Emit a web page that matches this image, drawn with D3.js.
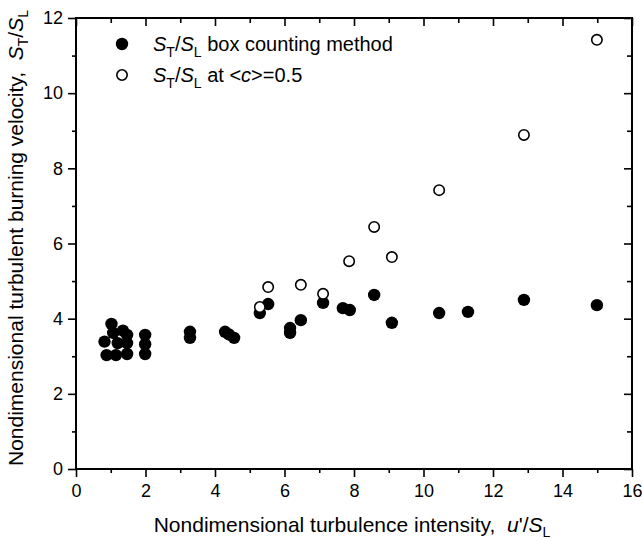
<!DOCTYPE html>
<html><head><meta charset="utf-8">
<script src="https://cdn.jsdelivr.net/npm/d3@7"></script>
<style>body{margin:0;background:#fff}svg{display:block}text{font-family:"Liberation Sans",Arial,sans-serif}</style>
</head><body><svg id="c" width="642" height="540"></svg>
<script>
const boxX = [0.82,0.88,1.02,1.07,1.15,1.2,1.35,1.47,1.47,1.47,1.99,1.99,1.99,3.28,3.28,4.29,4.4,4.55,5.29,5.53,6.16,6.16,6.47,7.11,7.68,7.88,8.58,9.09,10.45,11.28,12.89,14.99];
const boxY = [3.39,3.03,3.86,3.62,3.03,3.35,3.68,3.57,3.35,3.06,3.57,3.32,3.06,3.65,3.49,3.65,3.58,3.49,4.15,4.39,3.75,3.62,3.96,4.42,4.28,4.23,4.63,3.89,4.15,4.18,4.5,4.36];
const cX = [5.29,5.53,6.47,7.11,7.86,8.58,9.09,10.45,12.89,14.99];
const cY = [4.31,4.84,4.9,4.66,5.53,6.44,5.64,7.42,8.89,11.42];
const xMajor = [0,2,4,6,8,10,12,14,16];
const xMinor = [1,3,5,7,9,11,13,15];
const yMajor = [0,2,4,6,8,10,12];
const yMinor = [1,3,5,7,9,11];

const svg = d3.select("#c");
const L=76,R=632,T=18,B=469;
const x = d3.scaleLinear().domain([0,16]).range([L,R]);
const y = d3.scaleLinear().domain([0,12]).range([B,T]);

function styleAxis(g){g.select(".domain").remove();g.selectAll("line").attr("stroke","#000").attr("stroke-width",1.6);g.selectAll("text").attr("font-size",18).attr("fill","#000");}

svg.append("g").attr("transform",`translate(0,${B})`).call(d3.axisBottom(x).tickValues(xMajor).tickSize(8).tickPadding(7).tickFormat(d3.format("d"))).call(styleAxis);
svg.append("g").attr("transform",`translate(0,${B})`).call(d3.axisBottom(x).tickValues(xMinor).tickSize(4).tickFormat("")).call(styleAxis);
svg.append("g").attr("transform",`translate(0,${T})`).call(d3.axisTop(x).tickValues(xMajor).tickSize(-8).tickFormat("")).call(styleAxis);
svg.append("g").attr("transform",`translate(0,${T})`).call(d3.axisTop(x).tickValues(xMinor).tickSize(-5).tickFormat("")).call(styleAxis);
svg.append("g").attr("transform",`translate(${L},0)`).call(d3.axisLeft(y).tickValues(yMajor).tickSize(8).tickPadding(5).tickFormat(d3.format("d"))).call(styleAxis);
svg.append("g").attr("transform",`translate(${L},0)`).call(d3.axisLeft(y).tickValues(yMinor).tickSize(4).tickFormat("")).call(styleAxis);
svg.append("g").attr("transform",`translate(${R},0)`).call(d3.axisRight(y).tickValues(yMajor).tickSize(-8).tickFormat("")).call(styleAxis);
svg.append("g").attr("transform",`translate(${R},0)`).call(d3.axisRight(y).tickValues(yMinor).tickSize(-5).tickFormat("")).call(styleAxis);

svg.append("rect").attr("x",L).attr("y",T).attr("width",R-L).attr("height",B-T).attr("fill","none").attr("stroke","#000").attr("stroke-width",2);

svg.append("g").selectAll("circle").data(boxX.map((v,i)=>[v,boxY[i]])).join("circle")
  .attr("cx",d=>x(d[0])).attr("cy",d=>y(d[1])).attr("r",6.2).attr("fill","#000");
svg.append("g").selectAll("circle").data(cX.map((v,i)=>[v,cY[i]])).join("circle")
  .attr("cx",d=>x(d[0])).attr("cy",d=>y(d[1])).attr("r",5.2).attr("fill","#fff").attr("stroke","#000").attr("stroke-width",1.6);

// legend
const lg = svg.append("g");
lg.append("circle").attr("cx",122).attr("cy",44).attr("r",6.2).attr("fill","#000");
lg.append("circle").attr("cx",122).attr("cy",75).attr("r",5.2).attr("fill","#fff").attr("stroke","#000").attr("stroke-width",1.6);
function stst(t,fs,dy){
  t.append("tspan").attr("font-style","italic").text("S");
  t.append("tspan").attr("font-size",fs).attr("dy",dy).text("T");
  t.append("tspan").attr("dy",-dy).text("/");
  t.append("tspan").attr("font-style","italic").text("S");
  t.append("tspan").attr("font-size",fs).attr("dy",dy).text("L");
}
const t1 = lg.append("text").attr("x",153).attr("y",51).attr("font-size",20);
stst(t1,14,6); t1.append("tspan").attr("dy",-6).text(" box counting method");
const t2 = lg.append("text").attr("x",153).attr("y",82).attr("font-size",20);
stst(t2,14,6); t2.append("tspan").attr("dy",-6).text(" at <");
t2.append("tspan").attr("font-style","italic").text("c");
t2.append("tspan").text(">=0.5");

// axis titles
const xt = svg.append("text").attr("x",352).attr("y",532).attr("text-anchor","middle").attr("font-size",21).attr("xml:space","preserve");
xt.append("tspan").text("Nondimensional turbulence intensity,  ");
xt.append("tspan").attr("font-style","italic").text("u");
xt.append("tspan").text("'/");
xt.append("tspan").attr("font-style","italic").text("S");
xt.append("tspan").attr("font-size",14).attr("dy",5).text("L");

const yt = svg.append("text").attr("transform","translate(23,238) rotate(-90)").attr("text-anchor","middle").attr("font-size",21).attr("xml:space","preserve");
yt.append("tspan").text("Nondimensional turbulent burning velocity,  ");
stst(yt,14,5);
</script></body></html>
